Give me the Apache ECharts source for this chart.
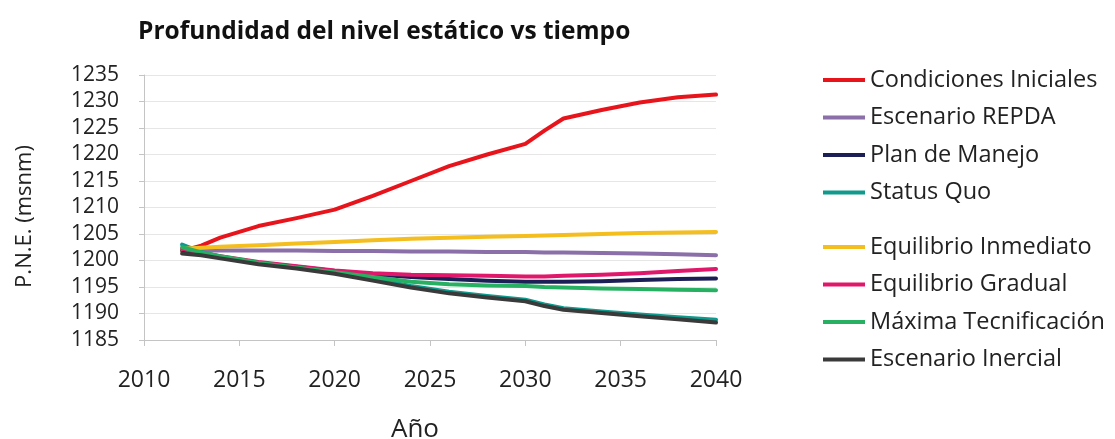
<!DOCTYPE html>
<html>
<head>
<meta charset="utf-8">
<script src="https://cdn.jsdelivr.net/npm/echarts@6/dist/echarts.min.js"></script>
<style>
  html, body { margin: 0; padding: 0; background: #fff; }
  #chart { width: 1115px; height: 439px; }
</style>
</head>
<body>
<div id="chart"></div>
<script>
// ---- data ----
const years = [2012, 2013, 2014, 2016, 2018, 2020, 2022, 2024, 2026, 2028, 2030, 2031, 2032, 2034, 2036, 2038, 2040];
const condicionesIniciales = [1201.8, 1202.8, 1204.3, 1206.5, 1208.0, 1209.6, 1212.2, 1215.0, 1217.8, 1220.0, 1222.0, 1224.5, 1226.8, 1228.4, 1229.8, 1230.8, 1231.3];
const escenarioREPDA      = [1202.0, 1201.9, 1201.9, 1201.9, 1201.9, 1201.8, 1201.8, 1201.7, 1201.7, 1201.6, 1201.6, 1201.5, 1201.5, 1201.4, 1201.3, 1201.2, 1201.0];
const planDeManejo        = [1202.0, 1201.3, 1200.7, 1199.6, 1198.8, 1198.0, 1197.4, 1196.9, 1196.5, 1196.2, 1196.0, 1196.0, 1196.0, 1196.1, 1196.3, 1196.5, 1196.6];
const statusQuo           = [1203.0, 1201.6, 1200.7, 1199.5, 1198.7, 1197.7, 1196.5, 1195.2, 1194.1, 1193.3, 1192.6, 1191.7, 1191.0, 1190.4, 1189.8, 1189.3, 1188.8];
const equilibrioInmediato = [1202.2, 1202.4, 1202.6, 1202.9, 1203.2, 1203.5, 1203.8, 1204.1, 1204.3, 1204.5, 1204.6, 1204.7, 1204.8, 1205.0, 1205.2, 1205.3, 1205.4];
const equilibrioGradual   = [1202.2, 1201.4, 1200.8, 1199.7, 1198.9, 1198.1, 1197.6, 1197.3, 1197.2, 1197.1, 1197.0, 1197.0, 1197.1, 1197.3, 1197.6, 1198.0, 1198.4];
const maximaTecnificacion = [1202.5, 1201.5, 1200.8, 1199.6, 1198.7, 1197.8, 1196.9, 1196.0, 1195.5, 1195.3, 1195.2, 1195.0, 1194.9, 1194.7, 1194.6, 1194.5, 1194.4];
const escenarioInercial   = [1201.3, 1201.0, 1200.4, 1199.3, 1198.5, 1197.5, 1196.2, 1194.9, 1193.8, 1193.0, 1192.3, 1191.4, 1190.7, 1190.1, 1189.5, 1188.9, 1188.3];

const seriesNames = ['Condiciones Iniciales', 'Escenario REPDA', 'Plan de Manejo', 'Status Quo',
                     'Equilibrio Inmediato', 'Equilibrio Gradual', 'Máxima Tecnificación', 'Escenario Inercial'];
const seriesValues = [condicionesIniciales, escenarioREPDA, planDeManejo, statusQuo,
                      equilibrioInmediato, equilibrioGradual, maximaTecnificacion, escenarioInercial];
const seriesColors = ['#e8141c', '#8a6fa8', '#1b1f55', '#0e9a8c', '#f4be1e', '#e0186c', '#27b062', '#3a3a3a'];

const titleText = 'Profundidad del nivel estático vs tiempo';
const xAxisTitle = 'Año';
const yAxisTitle = 'P.N.E. (msnm)';

// ---- chart ----
const FONT = '"Open Sans", "Noto Sans", sans-serif';
const chart = echarts.init(document.getElementById('chart'), null, { renderer: 'canvas' });

const series = seriesNames.map((name, i) => ({
  name: name,
  type: 'line',
  data: years.map((y, k) => [y, seriesValues[i][k]]),
  showSymbol: false,
  symbol: 'none',
  smooth: false,
  lineStyle: { color: seriesColors[i], width: 4, join: 'round', cap: 'round' },
  itemStyle: { color: seriesColors[i] },
  emphasis: { disabled: true },
  z: 2 + i
}));

const legendCommon = {
  orient: 'vertical',
  left: 818,
  itemWidth: 42,
  itemHeight: 4,
  icon: 'rect',
  itemGap: 13.5,
  selectedMode: false,
  textStyle: { fontFamily: FONT, fontSize: 23.5, color: '#222', lineHeight: 24 }
};

chart.setOption({
  animation: false,
  backgroundColor: '#ffffff',
  title: {
    text: titleText,
    left: 133,
    top: 15,
    textStyle: { fontFamily: FONT, fontSize: 24.5, fontWeight: 'bold', color: '#111' }
  },
  legend: [
    Object.assign({}, legendCommon, { top: 63, data: seriesNames.slice(0, 4) }),
    Object.assign({}, legendCommon, { top: 230, data: seriesNames.slice(4) })
  ],
  grid: { left: 144, right: 399, top: 75, bottom: 99, containLabel: false, outerBoundsMode: 'none' },
  xAxis: {
    type: 'value',
    min: 2010,
    max: 2040,
    interval: 5,
    name: xAxisTitle,
    nameLocation: 'middle',
    nameGap: 77,
    nameTextStyle: { fontFamily: FONT, fontSize: 26, color: '#222', padding: [0, 30, 0, 0] },
    axisLine: { show: true, lineStyle: { color: '#c4c4c4', width: 1 } },
    axisTick: { show: true, length: 6, lineStyle: { color: '#c4c4c4' } },
    axisLabel: { fontFamily: FONT, fontSize: 23, color: '#222', margin: 29, formatter: v => String(v) },
    splitLine: { show: false }
  },
  yAxis: {
    type: 'value',
    min: 1185,
    max: 1235,
    interval: 5,
    name: yAxisTitle,
    nameLocation: 'middle',
    nameRotate: 90,
    nameGap: 108,
    nameTextStyle: { fontFamily: FONT, fontSize: 22, color: '#222', padding: [0, 18, 0, 0] },
    axisLine: { show: true, lineStyle: { color: '#c4c4c4', width: 1 } },
    axisTick: { show: true, length: 5, lineStyle: { color: '#c4c4c4' } },
    axisLabel: { fontFamily: FONT, fontSize: 21, color: '#222', margin: 25, formatter: v => String(v) },
    splitLine: { show: true, lineStyle: { color: '#e6e6e6', width: 1 } }
  },
  series: series
});
</script>
</body>
</html>
